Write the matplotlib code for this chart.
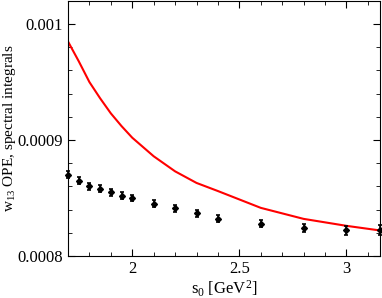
import matplotlib
matplotlib.use("Agg")
import matplotlib.pyplot as plt
from matplotlib.ticker import MultipleLocator

plt.rcParams['font.family'] = ['Liberation Serif', 'DejaVu Serif']
plt.rcParams['mathtext.fontset'] = 'custom'
plt.rcParams['mathtext.rm'] = 'Liberation Serif'
plt.rcParams['mathtext.default'] = 'regular'

# spectral integrals (data points)
s0 = [1.7, 1.75, 1.8, 1.85, 1.9, 1.95, 2.0, 2.1, 2.2, 2.3, 2.4, 2.6, 2.8, 3.0, 3.157]
spec = [0.000870, 0.000865, 0.000860, 0.000858, 0.000855, 0.000852, 0.000850,
        0.000845, 0.000841, 0.000837, 0.000832, 0.000828, 0.000824, 0.000822, 0.000822]
spec_err = [0.0000030, 0.0000030, 0.0000030, 0.0000030, 0.0000030, 0.0000030, 0.0000030,
            0.0000030, 0.0000030, 0.0000030, 0.0000030, 0.0000030, 0.0000035, 0.0000040, 0.0000043]

# OPE curve
ope = [0.000985, 0.000968, 0.000950, 0.000936, 0.000923, 0.000912, 0.000902,
       0.000886, 0.000873, 0.000863, 0.000856, 0.0008415, 0.000832, 0.000826, 0.000822]

fig = plt.figure(figsize=(3.82, 2.98), dpi=100)
ax = fig.add_axes([0.178, 0.141, 0.817, 0.856])

ax.plot(s0, ope, color='red', lw=1.5)
eb = ax.errorbar(s0, spec, yerr=spec_err, fmt='D', color='black', ms=3,
                 elinewidth=1.2, capsize=1.6, capthick=1.2)
for art in eb.lines[0:1] + tuple(eb.lines[1]) + tuple(eb.lines[2]):
    art.set_clip_on(False)

ax.set_xlim(1.7, 3.157)
ax.set_ylim(0.0008, 0.00102)
ax.xaxis.set_minor_locator(MultipleLocator(0.1))
ax.yaxis.set_minor_locator(MultipleLocator(0.00002))
ax.set_xticks([2, 2.5, 3])
ax.set_xticklabels(['2', '2.5', '3'])
ax.set_yticks([0.0008, 0.0009, 0.001])
ax.set_yticklabels(['0.0008', '0.0009', '0.001'])
ax.tick_params(which='both', direction='in', top=True, right=True, labelsize=12)
ax.tick_params(which='major', length=5)
ax.tick_params(which='minor', length=3)

ax.set_xlabel('s$_0$ [GeV$^2$]', fontsize=12, labelpad=1)
ax.set_ylabel('w$_{13}$ OPE, spectral integrals', fontsize=11, labelpad=0)

fig.savefig('out.png', dpi=100)
